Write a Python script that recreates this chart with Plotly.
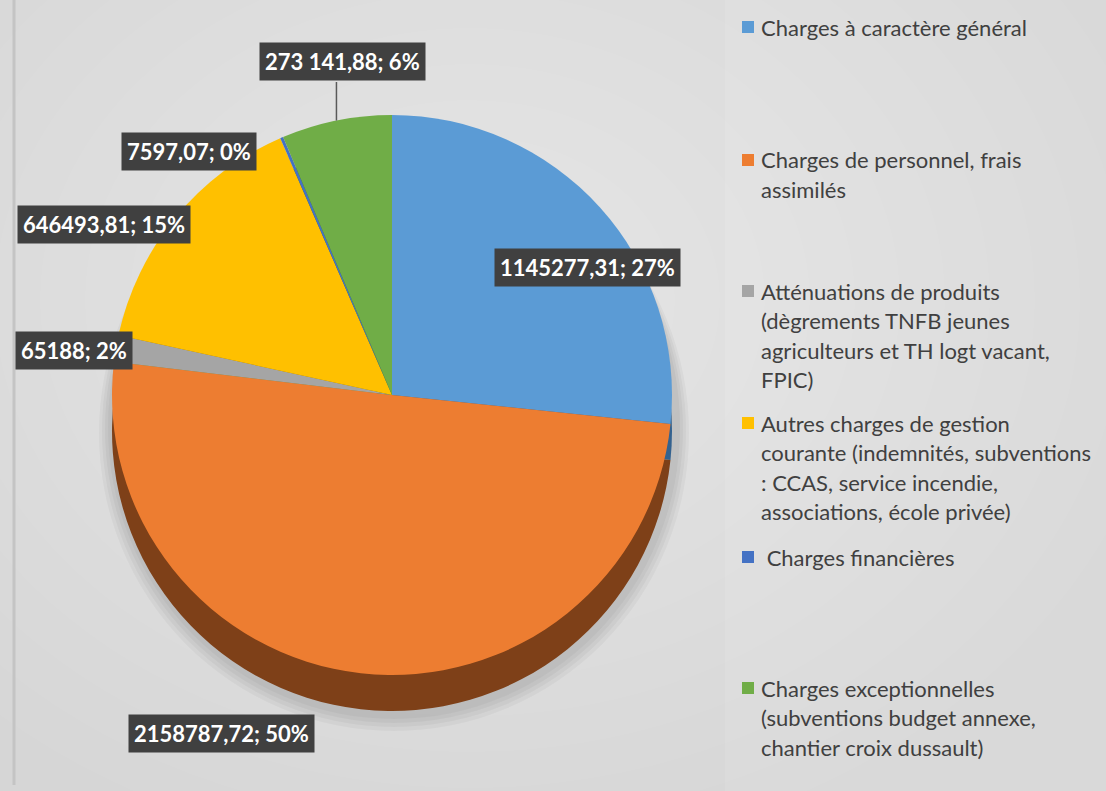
import math
import plotly.graph_objects as go

# ---------------- data ----------------
categories = [
    "Charges à caractère général",
    "Charges de personnel, frais assimilés",
    "Atténuations de produits (dègrements TNFB jeunes agriculteurs et TH logt vacant, FPIC)",
    "Autres charges de gestion courante (indemnités, subventions : CCAS, service incendie, associations, école privée)",
    "Charges financières",
    "Charges exceptionnelles (subventions budget annexe, chantier croix dussault)",
]
values = [1145277.31, 2158787.72, 65188, 646493.81, 7597.07, 273141.88]
value_labels = ["1145277,31", "2158787,72", "65188", "646493,81", "7597,07", "273 141,88"]
legend_lines = [
    ["Charges à caractère général"],
    ["Charges de personnel, frais", "assimilés"],
    ["Atténuations de produits", "(dègrements TNFB jeunes", "agriculteurs et TH logt vacant,", "FPIC)"],
    ["Autres charges de gestion", "courante (indemnités, subventions", ": CCAS, service incendie,", "associations, école privée)"],
    [" Charges financières"],
    ["Charges exceptionnelles", "(subventions budget annexe,", "chantier croix dussault)"],
]
colors = ["#5B9BD5", "#ED7D31", "#A5A5A5", "#FFC000", "#4472C4", "#70AD47"]
side_colors = ["#34628F", "#7E4018", "#6A6A6A", "#9C7600", "#2A4A80", "#44702A"]

# ---------------- layout geometry (pixels) ----------------
W, H = 1106, 791
cx, cy, r = 392, 395, 280
depth = 36

def px(x):
    return x / W

def py(y):
    return 1 - y / H

total = sum(values)
pct = [round(v / total * 100) for v in values]
label_text = [f"{lab}; {p}%" for lab, p in zip(value_labels, pct)]

fig = go.Figure()

# side (depth) of the pie, drawn as a darker pie offset downward
fig.add_trace(go.Pie(
    values=values, labels=categories, sort=False, direction="clockwise", rotation=0,
    marker=dict(colors=side_colors, line=dict(width=0)),
    textinfo="none", hoverinfo="skip", showlegend=False,
    domain=dict(x=[px(cx - r), px(cx + r)], y=[py(cy + depth + r), py(cy + depth - r)]),
))
# top surface
fig.add_trace(go.Pie(
    values=values, labels=categories, sort=False, direction="clockwise", rotation=0,
    marker=dict(colors=colors, line=dict(width=0)),
    customdata=label_text, textinfo="none", hovertemplate="%{customdata}<extra></extra>",
    showlegend=False,
    domain=dict(x=[px(cx - r), px(cx + r)], y=[py(cy + r), py(cy - r)]),
))

shapes = []
# right legend panel tint
shapes.append(dict(type="rect", xref="paper", yref="paper", layer="below",
                   x0=px(725), x1=1, y0=0, y1=1, fillcolor="rgba(255,255,255,0.08)", line=dict(width=0)))
# background radial glow (many faint layers)
for k in range(14):
    rx = 700 - k * 45
    ry = 560 - k * 36
    shapes.append(dict(type="circle", xref="paper", yref="paper", layer="below",
                       x0=px(470 - rx), x1=px(470 + rx), y0=py(300 + ry), y1=py(300 - ry),
                       fillcolor="rgba(255,255,255,0.045)", line=dict(width=0)))
# soft pie shadow
for k in range(4):
    shapes.append(dict(type="circle", xref="paper", yref="paper", layer="below",
                       x0=px(cx - r - 4 - 3 * k), x1=px(cx + r + 8 + 3 * k),
                       y0=py(cy + depth + r + 8 + 4 * k), y1=py(cy - r + 20),
                       fillcolor="rgba(0,0,0,0.035)", line=dict(width=0)))
# left edge line
shapes.append(dict(type="line", xref="paper", yref="paper", layer="below",
                   x0=px(14), x1=px(14), y0=py(0), y1=py(785), line=dict(color="#c4c4c4", width=3)))

# label positions (pixel centres)
label_pos = [(588, 267), (221, 733), (74, 350), (104, 225), (189, 151), (342, 62)]
annotations = []
for (lx, ly), txt in zip(label_pos, label_text):
    annotations.append(dict(x=px(lx), y=py(ly), xref="paper", yref="paper", text=f"<b>{txt}</b>",
                            showarrow=False, font=dict(family="Lato", size=22, color="white"),
                            bgcolor="#404040", borderpad=5, xanchor="center", yanchor="middle"))

# leader line for the green slice computed from its angle
cum_before = sum(values[:5])
mid = (cum_before + values[5] / 2) / total
theta = 2 * math.pi * mid
ex = cx + r * math.sin(theta)
ey = cy - r * math.cos(theta)
shapes.append(dict(type="line", xref="paper", yref="paper", x0=px(ex), x1=px(ex),
                   y0=py(label_pos[5][1] + 20), y1=py(ey), line=dict(color="#595959", width=1.5)))

# custom legend
legend_y = [27, 160, 291, 423, 557, 688]
line_step = 29.5
for i, (lines, y0) in enumerate(zip(legend_lines, legend_y)):
    shapes.append(dict(type="rect", xref="paper", yref="paper",
                       x0=px(742), x1=px(754), y0=py(y0 + 6), y1=py(y0 - 6),
                       fillcolor=colors[i], line=dict(width=0)))
    for j, ln in enumerate(lines):
        annotations.append(dict(x=px(759), y=py(y0 + j * line_step), xref="paper", yref="paper",
                                text=ln, showarrow=False, xanchor="left", yanchor="middle",
                                font=dict(family="Lato", size=22, color="#404040")))

fig.update_layout(
    width=W, height=H, margin=dict(l=0, r=0, t=0, b=0),
    paper_bgcolor="#d6d6d6", plot_bgcolor="rgba(0,0,0,0)",
    shapes=shapes, annotations=annotations, showlegend=False,
)

fig.write_html("out.html", config={"displayModeBar": False},
               post_script="document.body.style.margin='0';")
